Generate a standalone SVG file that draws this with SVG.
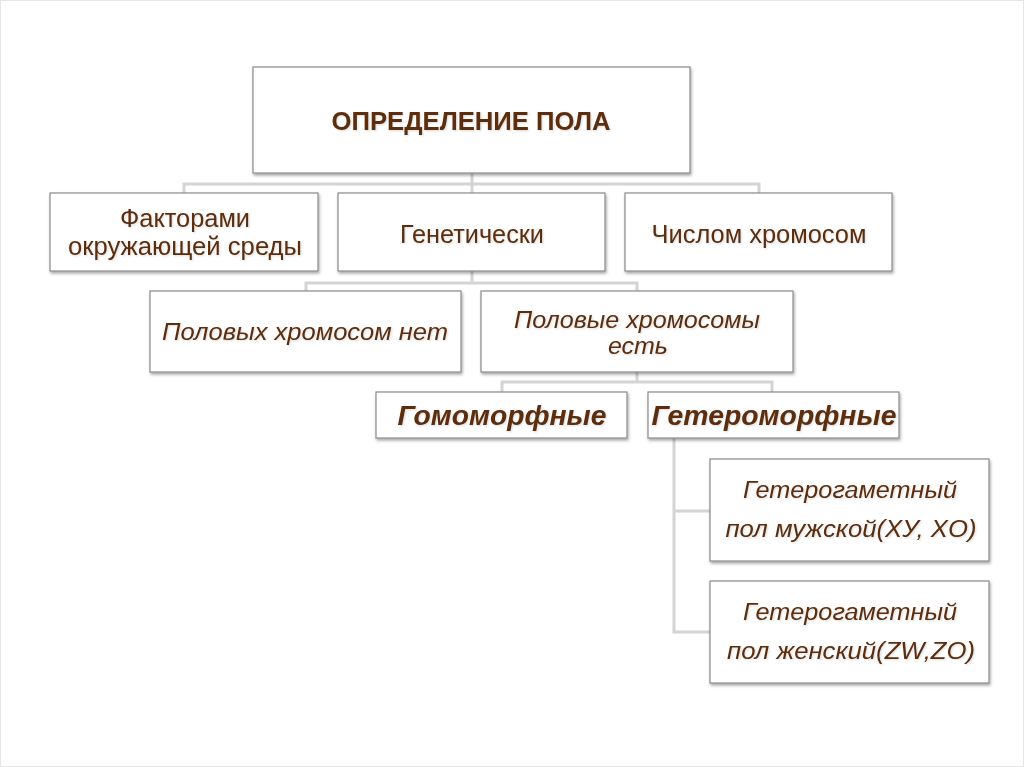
<svg xmlns="http://www.w3.org/2000/svg" width="1024" height="767" viewBox="0 0 1024 767">
<style>
.box{fill:#fff;stroke:#8a8a8a;stroke-width:1.2;filter:url(#sh)}
.t{font-family:"Liberation Sans",Arial,sans-serif;fill:#5b2e0e;text-anchor:middle;filter:url(#ts)}
.r{font-size:25px}
.i{font-size:23px;font-style:italic}
.bi{font-size:27px;font-style:italic;font-weight:bold}
.b{font-size:26px;font-weight:bold}
.c{fill:none;stroke:#d4d4d4;stroke-width:3}
</style>
<defs>
<filter id="sh" x="-10%" y="-10%" width="120%" height="130%">
<feDropShadow dx="1" dy="2" stdDeviation="1.5" flood-color="#000" flood-opacity="0.35"/>
</filter>
<filter id="ts" x="-5%" y="-20%" width="110%" height="150%">
<feDropShadow dx="1" dy="1" stdDeviation="1" flood-color="#000" flood-opacity="0.15"/>
</filter>
</defs>
<rect x="0" y="0" width="1024" height="767" fill="#fff"/>
<rect x="0.5" y="0.5" width="1023" height="766" fill="none" stroke="#e6e6e6"/>
<g id="connectors">
<path class="c" d="M472 173V184M184 193V184H759V193M472 184V193"/>
<path class="c" d="M472 271V283M306 291V283H637V291"/>
<path class="c" d="M637 372V382M502 392V382H772V392"/>
<path class="c" d="M674 438V632H710M674 511H710"/>
</g>
<g id="n0"><rect class="box" x="253" y="67" width="437" height="106"/><text class="t b" x="471" y="130" textLength="279" lengthAdjust="spacingAndGlyphs">ОПРЕДЕЛЕНИЕ ПОЛА</text></g>
<g id="n1"><rect class="box" x="50" y="193" width="268" height="78"/><text class="t r" x="185" y="227" textLength="130" lengthAdjust="spacingAndGlyphs">Факторами</text><text class="t r" x="185" y="255" textLength="234" lengthAdjust="spacingAndGlyphs">окружающей среды</text></g>
<g id="n2"><rect class="box" x="338" y="193" width="267" height="78"/><text class="t r" x="472" y="243" textLength="144" lengthAdjust="spacingAndGlyphs">Генетически</text></g>
<g id="n3"><rect class="box" x="625" y="193" width="267" height="78"/><text class="t r" x="759" y="243" textLength="215" lengthAdjust="spacingAndGlyphs">Числом хромосом</text></g>
<g id="n4"><rect class="box" x="150" y="291" width="311" height="81"/><text class="t i" x="305" y="340" textLength="286" lengthAdjust="spacingAndGlyphs">Половых хромосом нет</text></g>
<g id="n5"><rect class="box" x="481" y="291" width="312" height="81"/><text class="t i" x="637" y="328" textLength="246" lengthAdjust="spacingAndGlyphs">Половые хромосомы</text><text class="t i" x="638" y="354" textLength="60" lengthAdjust="spacingAndGlyphs">есть</text></g>
<g id="n6"><rect class="box" x="376" y="392" width="251" height="46"/><text class="t bi" x="502" y="425" textLength="209" lengthAdjust="spacingAndGlyphs">Гомоморфные</text></g>
<g id="n7"><rect class="box" x="648" y="392" width="251" height="46"/><text class="t bi" x="774" y="425" textLength="245" lengthAdjust="spacingAndGlyphs">Гетероморфные</text></g>
<g id="n8"><rect class="box" x="710" y="459" width="279" height="102"/><text class="t i" x="850" y="498" textLength="214" lengthAdjust="spacingAndGlyphs">Гетерогаметный</text><text class="t i" x="851" y="537" textLength="251" lengthAdjust="spacingAndGlyphs">пол мужской(XУ, XO)</text></g>
<g id="n9"><rect class="box" x="710" y="581" width="279" height="102"/><text class="t i" x="850" y="620" textLength="214" lengthAdjust="spacingAndGlyphs">Гетерогаметный</text><text class="t i" x="851" y="659" textLength="248" lengthAdjust="spacingAndGlyphs">пол женский(ZW,ZO)</text></g>
</svg>
